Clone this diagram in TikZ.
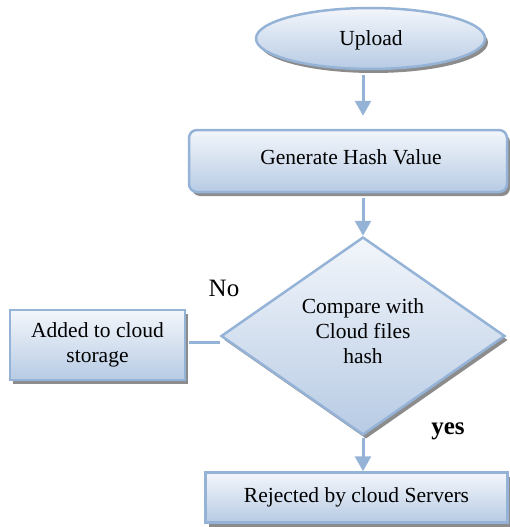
\documentclass[tikz,border=0pt]{standalone}
\usepackage{fontspec}
\setmainfont{Liberation Serif}
\usetikzlibrary{shapes.geometric,shadows,arrows.meta,calc}
\definecolor{bordc}{HTML}{95B3D7}
\definecolor{arrc}{HTML}{95B3D7}
\definecolor{gradtop}{HTML}{F3F6FB}
\definecolor{gradbot}{HTML}{B7CBE4}
\definecolor{shadc}{HTML}{8C8C8C}
\tikzset{
  flowbox/.style={draw=bordc, line width=2.5pt, top color=gradtop, bottom color=gradbot,
    align=center, inner sep=0pt, font=\fontsize{21.5}{25}\selectfont,
    general shadow={shadow xshift=3pt, shadow yshift=-4pt, fill=shadc}},
  txt/.style={align=center, inner sep=0pt, font=\fontsize{21.5}{25}\selectfont},
  arr/.style={draw=arrc, line width=3pt, -{Triangle[width=16pt,length=15pt]}},
  plainline/.style={draw=arrc, line width=3pt},
  lbl/.style={inner sep=0pt, font=\fontsize{25}{30}\selectfont}
}
\begin{document}
\begin{tikzpicture}[x=1pt,y=-1pt]
\useasboundingbox (0,0) rectangle (510,527);
\node[flowbox, ellipse, minimum width=229pt, minimum height=61pt] (upload) at (370.5,38.5) {};
\node[txt] (uploadtxt) at (371,40) {Upload};
\node[flowbox, rectangle, rounded corners=8pt, minimum width=318pt, minimum height=62pt] (hash) at (348,161) {};
\node[txt] (hashtxt) at (351,157) {Generate Hash Value};
\node[flowbox, diamond, minimum width=284pt, minimum height=198pt] (dia) at (363,336) {};
\node[txt] (diatxt) at (363,331) {Compare with\\Cloud files\\hash};
\node[flowbox, rectangle, minimum width=175pt, minimum height=70pt] (added) at (97.5,345) {Added to cloud\\storage};
\node[flowbox, rectangle, minimum width=302pt, minimum height=50pt] (reject) at (356.5,497.5) {Rejected by cloud Servers};
\draw[arr, shorten <=5pt] (upload.south -| dia.north) -- ([yshift=13pt]hash.north -| dia.north);
\draw[arr, shorten <=5pt] (hash.south -| dia.north) -- (dia.north);
\draw[arr, shorten <=2pt] (dia.south) -- (reject.north -| dia.south);
\draw[plainline, shorten <=3pt] ([yshift=3pt]added.east) -- ([yshift=3pt]added.east -| dia.west);
\node[lbl] (no) at (224,288) {No};
\node[lbl, font=\fontsize{25}{30}\selectfont\bfseries] (yes) at (448,431) {yes};
\end{tikzpicture}
\end{document}
